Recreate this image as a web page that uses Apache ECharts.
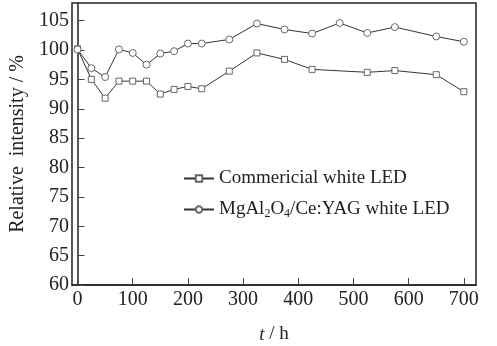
<!DOCTYPE html>
<html><head><meta charset="utf-8">
<script src="https://cdn.jsdelivr.net/npm/echarts@6/dist/echarts.min.js"></script>
<style>html,body{margin:0;padding:0;background:#fff}#c{width:497px;height:346px}</style>
</head><body><div id="c"></div>
<script>
var hours = [0,25,50,75,100,125,150,175,200,225,275,325,375,425,475,525,575,650,700];
var commercial = [100.2,95.0,91.8,94.7,94.7,94.7,92.5,93.3,93.8,93.4,96.4,99.5,98.4,96.7,null,96.2,96.5,95.8,92.9];
var mgal = [100.1,96.9,95.4,100.1,99.5,97.5,99.4,99.8,101.1,101.1,101.8,104.5,103.5,102.8,104.6,102.9,103.9,102.3,101.4];
var xTicks = [0,100,200,300,400,500,600,700];
var yTicks = [60,65,70,75,80,85,90,95,100,105];
var names = ['Commericial white LED','MgAl2O4/Ce:YAG white LED'];

function pairs(xs, ys){ var o=[]; for(var i=0;i<xs.length;i++){ if(ys[i]!==null) o.push([xs[i],ys[i]]);} return o; }
var font = 'Liberation Serif';
var chart = echarts.init(document.getElementById('c'), null, {renderer:'canvas'});
chart.setOption({
  animation:false,
  textStyle:{fontFamily:font},
  grid:{left:72,right:21,top:3,bottom:61,show:true,borderColor:'#222',borderWidth:1.5,outerBoundsMode:'none',containLabel:false},
  legend:{
    orient:'vertical', left:183, top:169, padding:0, itemWidth:30, itemHeight:8, itemGap:12,
    data:names,
    textStyle:{fontFamily:font,fontSize:19,color:'#222',
      rich:{sub:{fontFamily:font,fontSize:12,color:'#222',verticalAlign:'bottom',padding:[8,0,0,0]}}},
    formatter:function(n){ return n===names[1] ? 'MgAl{sub|2}O{sub|4}/Ce:YAG white LED' : n; }
  },
  xAxis:{type:'value',min:-10,max:722,
    name:'{i|t} / h',nameLocation:'middle',nameGap:40,
    nameTextStyle:{fontFamily:font,fontSize:19,color:'#222',rich:{i:{fontFamily:font,fontStyle:'italic',fontSize:19,color:'#222'}}},
    axisLine:{lineStyle:{color:'#222',width:1.5}},
    axisTick:{inside:true,length:7,customValues:xTicks,lineStyle:{color:'#444'}},
    axisLabel:{customValues:xTicks,fontFamily:font,fontSize:20,color:'#222',margin:5},
    splitLine:{show:false}},
  yAxis:{type:'value',min:60,max:108,
    name:'Relative  intensity / %',nameLocation:'middle',nameGap:42,
    nameTextStyle:{fontFamily:font,fontSize:20,color:'#222'},
    axisLine:{lineStyle:{color:'#222',width:1.5}},
    axisTick:{inside:true,length:7,customValues:yTicks,lineStyle:{color:'#444'}},
    axisLabel:{customValues:yTicks,fontFamily:font,fontSize:20,color:'#222',margin:3},
    splitLine:{show:false}},
  series:[
    {name:names[0],type:'line',data:pairs(hours,commercial),symbol:'rect',symbolSize:6,
     lineStyle:{color:'#333',width:1},itemStyle:{color:'#fff',borderColor:'#666',borderWidth:1}},
    {name:names[1],type:'line',data:pairs(hours,mgal),symbol:'circle',symbolSize:7,
     lineStyle:{color:'#333',width:1},itemStyle:{color:'#fff',borderColor:'#666',borderWidth:1}}
  ]
});
</script></body></html>
